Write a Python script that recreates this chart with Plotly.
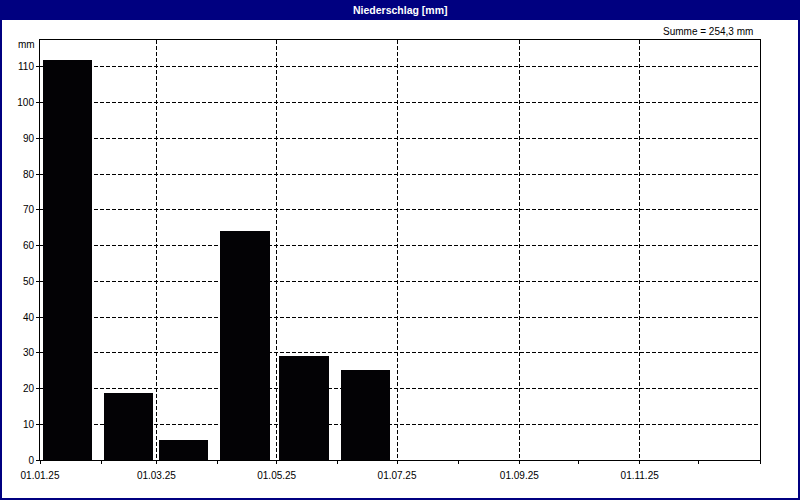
import plotly.graph_objects as go

# Monatssummen Niederschlag 2025
monate = ["2025-01-01", "2025-02-01", "2025-03-01", "2025-04-01", "2025-05-01", "2025-06-01"]
niederschlag = [111.8, 18.7, 5.6, 64.0, 29.0, 25.2]

# Achsenbeschriftung
x_ticks = ["2025-01-01", "2025-03-01", "2025-05-01", "2025-07-01", "2025-09-01", "2025-11-01"]
x_labels = ["01.01.25", "01.03.25", "01.05.25", "01.07.25", "01.09.25", "01.11.25"]
y_ticks = [0, 10, 20, 30, 40, 50, 60, 70, 80, 90, 100, 110]

summe = sum(niederschlag)
DAY = 86400000

fig = go.Figure()
fig.add_trace(go.Bar(
    x=monate, y=niederschlag,
    width=25 * DAY, offset=1.4 * DAY,
    marker=dict(color="#030205", line=dict(width=0)),
    hoverinfo="x+y",
))

W, H = 800, 500
L, R, T, B = 40, 40, 40, 40
pw, ph = W - L - R, H - T - B


def px_x(p):
    return (p - L) / pw


def px_y(p):
    return 1 - (p - T) / ph


font = dict(family="Liberation Sans, Arial, sans-serif", size=10, color="#000000")
navy = "#000080"

fig.update_layout(
    width=W, height=H,
    margin=dict(l=L, r=R, t=T, b=B),
    paper_bgcolor="white", plot_bgcolor="white",
    font=font,
    showlegend=False,
    bargap=0,
    xaxis=dict(
        type="date",
        range=["2025-01-01", "2026-01-01"],
        tickmode="array", tickvals=x_ticks, ticktext=x_labels,
        ticks="outside", ticklen=3, tickcolor="black",
        ticklabelstandoff=3,
        showgrid=True, gridcolor="black", griddash="4px,2px", gridwidth=1,
        minor=dict(tickmode="linear", tick0="2025-01-01", dtick="M1",
                   ticks="outside", ticklen=3, tickcolor="black", showgrid=False),
        showline=True, linecolor="black", linewidth=1, mirror=True,
        zeroline=False, fixedrange=True,
    ),
    yaxis=dict(
        range=[0, 117.5],
        tickmode="array", tickvals=y_ticks,
        ticks="outside", ticklen=3, tickcolor="black",
        showgrid=True, gridcolor="black", griddash="4px,2px", gridwidth=1,
        showline=True, linecolor="black", linewidth=1, mirror=True,
        zeroline=False, fixedrange=True,
    ),
    shapes=[
        # Titelleiste
        dict(type="rect", xref="paper", yref="paper",
             x0=px_x(0), x1=px_x(W), y0=px_y(20), y1=px_y(0),
             fillcolor=navy, line=dict(width=0), layer="above"),
        # Rahmen
        dict(type="rect", xref="paper", yref="paper",
             x0=px_x(1), x1=px_x(W - 1), y0=px_y(H - 1), y1=px_y(1),
             line=dict(color=navy, width=2), fillcolor="rgba(0,0,0,0)", layer="above"),
    ],
    annotations=[
        dict(text="<b>Niederschlag [mm]</b>", xref="paper", yref="paper",
             x=0.5, y=px_y(10), xanchor="center", yanchor="middle", showarrow=False,
             font=dict(family="Liberation Sans, Arial, sans-serif", size=10.5, color="white")),
        dict(text="Summe = " + f"{summe:.1f}".replace(".", ",") + " mm",
             xref="paper", yref="paper", x=px_x(755), y=px_y(31),
             xanchor="right", yanchor="middle", showarrow=False),
        dict(text="mm", xref="paper", yref="paper", x=px_x(37), y=px_y(45),
             xanchor="right", yanchor="middle", showarrow=False),
    ],
)

# Seitenrand des Browsers entfernen, damit das Bild bei 0,0 beginnt
fig.write_html("out.html", config={"displayModeBar": False},
               post_script="document.body.style.margin='0';")
